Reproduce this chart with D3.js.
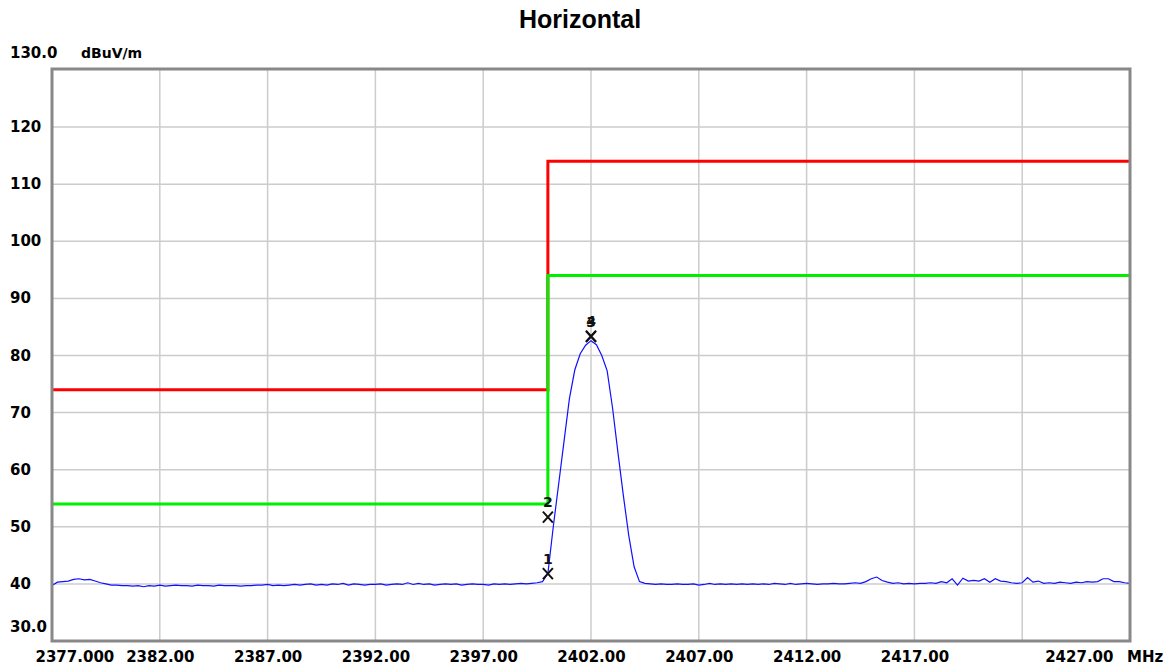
<!DOCTYPE html>
<html>
<head>
<meta charset="utf-8">
<script src="https://cdn.jsdelivr.net/npm/d3@7"></script>
<style>
  body { margin: 0; background: #fff; }
</style>
</head>
<body>
<svg width="1173" height="670"></svg>
<script>
// spectrum plot - horizontal polarisation

// x axis ticks (MHz) and their labels
const xTicks = [2377, 2382, 2387, 2392, 2397, 2402, 2407, 2412, 2417, 2422, 2427];
const xTickLabels = ["2377.000", "2382.00", "2387.00", "2392.00", "2397.00", "2402.00",
  "2407.00", "2412.00", "2417.00", "", "2427.00"];
// y axis ticks (dBuV/m) and labels
const yTicks = [30, 40, 50, 60, 70, 80, 90, 100, 110, 120, 130];
const yTickLabels = ["30.0", "40", "50", "60", "70", "80", "90", "100", "110", "120", "130.0"];

// limit lines
const limitFreqs = [2377, 2400, 2400, 2427];
const redLimit = [74, 74, 114, 114];
const greenLimit = [54, 54, 94, 94];

// sweep: 2377 MHz start, 0.25 MHz per point
const sweepStart = 2377;
const sweepStep = 0.25;
const traceLevels = [
  39.7, 40.3, 40.4, 40.5, 40.8, 40.9, 40.7, 40.8, 40.5, 40.2, 40.0, 39.8, 39.8, 39.7, 39.7, 39.6, 39.7, 39.5, 39.7, 39.6,
  39.8, 39.6, 39.7, 39.8, 39.7, 39.7, 39.6, 39.8, 39.7, 39.7, 39.6, 39.8, 39.7, 39.7, 39.7, 39.6, 39.7, 39.7, 39.8, 39.8,
  39.9, 39.7, 39.8, 39.7, 39.8, 39.9, 39.8, 39.9, 40.0, 39.8, 39.9, 39.8, 40.0, 39.9, 40.1, 39.8, 40.0, 39.9, 39.8, 39.9,
  39.9, 40.0, 39.8, 39.9, 40.0, 39.9, 40.2, 39.9, 40.1, 39.9, 40.0, 39.8, 39.9, 40.0, 39.9, 40.0, 39.8, 39.9, 40.0, 39.9,
  39.9, 39.8, 40.0, 39.9, 40.0, 39.9, 40.0, 40.1, 40.0, 40.1, 40.2, 40.4, 41.8, 50.0, 57.5, 65.0, 72.5, 77.5, 80.3, 81.8,
  82.6, 81.9, 80.0, 77.3, 70.8, 63.0, 55.5, 48.5, 43.0, 40.4, 40.1, 40.0, 39.9, 40.0, 39.9, 39.9, 40.0, 39.9, 39.9, 40.0,
  39.8, 39.9, 40.1, 39.9, 40.0, 39.9, 40.0, 39.9, 40.0, 39.9, 40.0, 39.9, 40.0, 39.9, 40.1, 40.0, 39.9, 40.1, 39.9, 40.0,
  40.1, 40.0, 39.9, 40.0, 40.0, 40.1, 40.0, 40.0, 40.1, 40.2, 40.1, 40.4, 40.9, 41.2, 40.6, 40.3, 40.1, 40.2, 40.0, 40.1,
  40.0, 40.1, 40.1, 40.2, 40.1, 40.4, 40.2, 40.9, 39.8, 41.0, 40.5, 40.6, 40.5, 40.9, 40.3, 40.9, 40.5, 40.4, 40.2, 40.1,
  40.2, 41.1, 40.3, 40.5, 40.1, 40.2, 40.1, 40.3, 40.2, 40.1, 40.3, 40.2, 40.4, 40.3, 40.4, 40.9, 40.9, 40.4, 40.4, 40.2,
  40.1
];

// markers
const markerIds = ["1", "2", "3", "4"];
const markerFreqs = [2400.0, 2400.0, 2402.0, 2402.0];
const markerLevels = [41.8, 51.7, 83.3, 83.4];

const svg = d3.select("svg");
const plotLeft = 52, plotRight = 1130, plotTop = 70, plotBottom = 641;

const x = d3.scaleLinear().domain([2377, 2427]).range([plotLeft, plotRight]);
const y = d3.scaleLinear().domain([30, 130]).range([plotBottom, plotTop]);

const font = "'DejaVu Sans', Verdana, sans-serif";

// title
svg.append("text")
  .text("Horizontal")
  .attr("x", 580)
  .attr("y", 28)
  .attr("text-anchor", "middle")
  .attr("font-family", "'Liberation Sans', Arial, sans-serif")
  .attr("font-weight", "bold")
  .attr("font-size", 25)
  .attr("fill", "#000");

// grid
const grid = svg.append("g");
grid.selectAll(".vgrid")
  .data(xTicks.slice(1, -1))
  .join("line")
  .attr("x1", (d) => x(d)).attr("x2", (d) => x(d))
  .attr("y1", plotTop).attr("y2", plotBottom)
  .attr("stroke", "#cccccc")
  .attr("stroke-width", 1.5);
grid.selectAll(".hgrid")
  .data(yTicks.slice(1, -1))
  .join("line")
  .attr("x1", plotLeft).attr("x2", plotRight)
  .attr("y1", (d) => y(d)).attr("y2", (d) => y(d))
  .attr("stroke", "#cccccc")
  .attr("stroke-width", 1.5);

// x axis labels
const xAxis = d3.axisBottom(x)
  .tickValues(xTicks)
  .tickSize(0)
  .tickFormat((d, i) => xTickLabels[i]);
const gx = svg.append("g")
  .attr("transform", `translate(0,${plotBottom})`)
  .call(xAxis);
gx.select(".domain").remove();
gx.selectAll("text")
  .attr("y", 10)
  .attr("dy", "0.71em")
  .attr("fill", "#000")
  .attr("font-family", font)
  .attr("font-weight", "bold")
  .attr("font-size", 15)
  .attr("text-anchor", (d, i) => (i === 0 ? "start" : i === xTicks.length - 1 ? "end" : "middle"))
  .attr("dx", (d, i) => (i === 0 ? -17 : i === xTicks.length - 1 ? -17 : 0));
svg.append("text")
  .text("MHz")
  .attr("x", 1127)
  .attr("y", 662)
  .attr("fill", "#000")
  .attr("font-family", font)
  .attr("font-weight", "bold")
  .attr("font-size", 15);

// y axis labels (left aligned)
const gy = svg.append("g");
gy.selectAll("text")
  .data(yTicks)
  .join("text")
  .text((d, i) => yTickLabels[i])
  .attr("x", 10)
  .attr("y", (d, i) => (i === 0 ? y(d) - 9 : i === yTicks.length - 1 ? y(d) - 12 : y(d) + 5))
  .attr("fill", "#000")
  .attr("font-family", font)
  .attr("font-weight", "bold")
  .attr("font-size", 15);
svg.append("text")
  .text("dBuV/m")
  .attr("x", 81)
  .attr("y", 58)
  .attr("fill", "#000")
  .attr("font-family", font)
  .attr("font-weight", "bold")
  .attr("font-size", 14);

// limit lines
const limitLine = d3.line()
  .x((d, i) => x(limitFreqs[i]))
  .y((d) => y(d));
svg.append("path")
  .attr("d", limitLine(redLimit))
  .attr("fill", "none")
  .attr("stroke", "#ff0000")
  .attr("stroke-width", 3);
svg.append("path")
  .attr("d", limitLine(greenLimit))
  .attr("fill", "none")
  .attr("stroke", "#00ee00")
  .attr("stroke-width", 3);

// trace
const traceLine = d3.line()
  .x((d, i) => x(sweepStart + i * sweepStep))
  .y((d) => y(d));
svg.append("path")
  .attr("d", traceLine(traceLevels))
  .attr("fill", "none")
  .attr("stroke", "#1010ff")
  .attr("stroke-width", 1.2);

// markers
const mk = svg.append("g");
markerIds.forEach((id, i) => {
  const mx = x(markerFreqs[i]);
  const my = y(markerLevels[i]);
  mk.append("path")
    .attr("d", `M${mx - 5},${my - 5.5}L${mx + 5},${my + 5.5}M${mx + 5},${my - 5.5}L${mx - 5},${my + 5.5}`)
    .attr("stroke", "#111")
    .attr("stroke-width", 2)
    .attr("fill", "none");
  mk.append("text")
    .text(id)
    .attr("x", mx)
    .attr("y", my - 10)
    .attr("text-anchor", "middle")
    .attr("fill", "#111")
    .attr("font-family", font)
    .attr("font-weight", "bold")
    .attr("font-size", 14);
});

// plot frame
svg.append("rect")
  .attr("x", plotLeft)
  .attr("y", plotTop - 1)
  .attr("width", plotRight - plotLeft)
  .attr("height", plotBottom - plotTop + 1)
  .attr("fill", "none")
  .attr("stroke", "#888888")
  .attr("stroke-width", 3);
</script>
</body>
</html>
